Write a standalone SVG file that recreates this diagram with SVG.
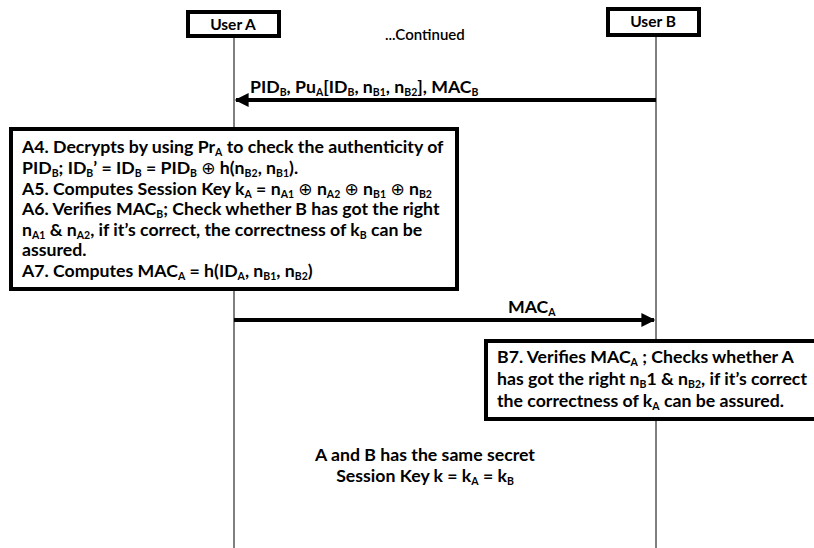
<svg xmlns="http://www.w3.org/2000/svg" width="814" height="548" viewBox="0 0 814 548">
<defs>
<style>
text{font-family:Lato,"Open Sans","DejaVu Sans",sans-serif;font-weight:700;fill:#000;font-size:17.7px}
.s{font-size:10.5px;baseline-shift:-3px}
.life{stroke:#000;stroke-width:1}
.box{fill:#fff;stroke:#000;stroke-width:4}
.msg{stroke:#000;stroke-width:4;fill:none}
.x{font-family:"DejaVu Sans",sans-serif;font-weight:400;font-size:17px}
</style>
<marker id="ah" viewBox="0 0 10 10" refX="9" refY="5" markerWidth="4" markerHeight="3.5" orient="auto" markerUnits="strokeWidth">
<path d="M0,0 L10,5 L0,10 z" fill="#000"/>
</marker>
</defs>
<rect width="814" height="548" fill="#fff"/>
<g id="lifelines">
<line class="life" x1="234" y1="36" x2="234" y2="548"/>
<line class="life" x1="656" y1="36" x2="656" y2="548"/>
</g>
<g id="userA">
<rect class="box" x="188" y="12" width="91" height="24"/>
<text x="233" y="30" text-anchor="middle" style="font-size:15.5px">User A</text>
</g>
<g id="userB">
<rect class="box" x="608" y="9" width="91" height="26"/>
<text x="653" y="27" text-anchor="middle" style="font-size:15.5px">User B</text>
</g>
<text id="continued" x="385" y="40" style="font-size:15px;font-weight:600">...Continued</text>
<g id="connectors">
<line class="msg" x1="656" y1="100" x2="236" y2="100" marker-end="url(#ah)"/>
<line class="msg" x1="234" y1="320" x2="654" y2="320" marker-end="url(#ah)"/>
</g>
<g id="label1">
<text x="250" y="93">PID<tspan class="s">B</tspan>, Pu<tspan class="s">A</tspan>[ID<tspan class="s">B</tspan>, n<tspan class="s">B1</tspan>, n<tspan class="s">B2</tspan>], MAC<tspan class="s">B</tspan></text>
</g>
<g id="label2">
<text x="508" y="313">MAC<tspan class="s">A</tspan></text>
</g>
<g id="boxA">
<rect class="box" x="11" y="129" width="446" height="160"/>
<text x="22" y="153">A4. Decrypts by using Pr<tspan class="s">A</tspan> to check the authenticity of</text>
<text x="22" y="174">PID<tspan class="s">B</tspan>; ID<tspan class="s">B</tspan>’ = ID<tspan class="s">B</tspan> =  PID<tspan class="s">B</tspan> <tspan class="x">⊕</tspan> h(n<tspan class="s">B2</tspan>, n<tspan class="s">B1</tspan>).</text>
<text x="22" y="195">A5. Computes Session Key k<tspan class="s">A</tspan> = n<tspan class="s">A1</tspan> <tspan class="x">⊕</tspan> n<tspan class="s">A2</tspan> <tspan class="x">⊕</tspan> n<tspan class="s">B1</tspan> <tspan class="x">⊕</tspan> n<tspan class="s">B2</tspan></text>
<text x="22" y="215">A6. Verifies MAC<tspan class="s">B</tspan>; Check whether B has got the right</text>
<text x="22" y="236">n<tspan class="s">A1</tspan> &amp; n<tspan class="s">A2</tspan>, if it’s correct, the correctness of k<tspan class="s">B</tspan> can be</text>
<text x="22" y="256">assured.</text>
<text x="22" y="277">A7. Computes MAC<tspan class="s">A</tspan> = h(ID<tspan class="s">A</tspan>, n<tspan class="s">B1</tspan>, n<tspan class="s">B2</tspan>)</text>
</g>
<g id="boxB">
<rect class="box" x="486" y="341" width="340" height="78"/>
<text x="497" y="363">B7. Verifies MAC<tspan class="s">A</tspan> ; Checks whether A</text>
<text x="497" y="385">has got the right n<tspan class="s">B</tspan>1 &amp; n<tspan class="s">B2</tspan>, if it’s correct</text>
<text x="497" y="407">the correctness of k<tspan class="s">A</tspan> can be assured.</text>
</g>
<g id="result">
<text x="425" y="461" text-anchor="middle">A and B has the same secret</text>
<text x="425" y="482" text-anchor="middle">Session Key k = k<tspan class="s">A</tspan> = k<tspan class="s">B</tspan></text>
</g>
</svg>
